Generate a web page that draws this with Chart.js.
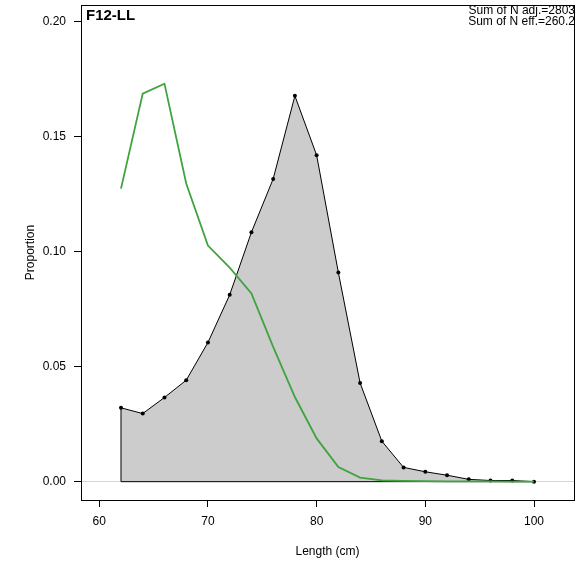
<!DOCTYPE html>
<html>
<head>
<meta charset="utf-8">
<script src="https://cdn.jsdelivr.net/npm/chart.js@4/dist/chart.umd.min.js"></script>
<style>
  html, body { margin: 0; padding: 0; background: #fff; }
  #wrap { width: 578px; height: 563px; }
</style>
</head>
<body>
<div id="wrap"><canvas id="c" width="578" height="563"></canvas></div>
<script>
// ---- data ----
const lengths = [62, 64, 66, 68, 70, 72, 74, 76, 78, 80, 82, 84, 86, 88, 90, 92, 94, 96, 98, 100];
const obsProp = [0.0321, 0.0296, 0.0366, 0.0441, 0.0605, 0.0812, 0.1084, 0.1316, 0.1677, 0.1419, 0.0909, 0.0429, 0.0176, 0.0062, 0.0043, 0.0028, 0.0010, 0.0005, 0.0005, 0.0000];
const expProp = [0.1274, 0.1687, 0.1730, 0.1296, 0.1026, 0.0930, 0.0818, 0.0586, 0.0368, 0.0188, 0.0064, 0.0018, 0.0006, 0.0003, 0.0002, 0.0001, 0.0001, 0.0001, 0.0000, 0.0000];
const xTicks = [60, 70, 80, 90, 100];
const yTicks = [0.00, 0.05, 0.10, 0.15, 0.20];
const panelLabel = "F12-LL";
const noteLines = ["Sum of N adj.=2803", "Sum of N eff.=260.2"];
const xTitle = "Length (cm)";
const yTitle = "Proportion";

const FONT = "'Liberation Sans', Arial, sans-serif";

const obsPoints = lengths.map((l, i) => ({ x: l, y: obsProp[i] }));
const firstL = lengths[0], lastL = lengths[lengths.length - 1];
const polygon = [{ x: firstL, y: 0 }].concat(obsPoints, [{ x: lastL, y: 0 }]);
const baseline = [{ x: firstL, y: 0 }, { x: lastL, y: 0 }];
const expPoints = lengths.map((l, i) => ({ x: l, y: expProp[i] }));

const boxPlugin = {
  id: 'boxAndText',
  afterDraw(chart) {
    const { ctx, chartArea: a } = chart;
    ctx.save();
    ctx.strokeStyle = '#000';
    ctx.lineWidth = 1;
    ctx.strokeRect(Math.round(a.left) + 0.5, Math.round(a.top) + 0.5, Math.round(a.right - a.left), Math.round(a.bottom - a.top));
    ctx.fillStyle = '#000';
    ctx.font = "bold 15px " + FONT;
    ctx.textAlign = 'left';
    ctx.textBaseline = 'middle';
    ctx.fillText(panelLabel, a.left + 5, a.top + 11);
    ctx.font = "12px " + FONT;
    ctx.textAlign = 'right';
    ctx.fillText(noteLines[0], a.right + 1, a.top + 6);
    ctx.fillText(noteLines[1], a.right + 1, a.top + 17);
    ctx.restore();
  }
};

new Chart(document.getElementById('c'), {
  type: 'scatter',
  data: {
    datasets: [
      {
        label: 'expected',
        data: expPoints,
        showLine: true,
        borderColor: '#3fa33f',
        borderWidth: 1.8,
        pointRadius: 0,
        fill: false,
        order: 0
      },
      {
        label: 'observed points',
        data: obsPoints,
        showLine: false,
        pointRadius: 2,
        pointBackgroundColor: '#000',
        pointBorderColor: '#000',
        pointBorderWidth: 0,
        order: 1
      },
      {
        label: 'baseline',
        data: baseline,
        showLine: true,
        borderColor: '#000',
        borderWidth: 1,
        pointRadius: 0,
        fill: false,
        order: 2
      },
      {
        label: 'observed',
        data: polygon,
        showLine: true,
        borderColor: '#000',
        borderWidth: 1,
        backgroundColor: '#cccccc',
        pointRadius: 0,
        fill: 'origin',
        order: 3
      }
    ]
  },
  options: {
    responsive: false,
    animation: false,
    layout: { padding: { left: 0, right: 4, top: 5, bottom: 0 } },
    plugins: {
      legend: { display: false },
      tooltip: { enabled: false },
      filler: { propagate: false }
    },
    scales: {
      x: {
        type: 'linear',
        min: 58.32,
        max: 103.68,
        afterBuildTicks: s => { s.ticks = xTicks.map(v => ({ value: v })); },
        afterFit: s => { s.height = 63; s.paddingLeft = 0; s.paddingRight = 0; },
        ticks: {
          autoSkip: false, maxRotation: 0, padding: 7,
          color: '#000', font: { family: FONT, size: 12 },
          callback: v => String(v)
        },
        grid: { drawOnChartArea: false, drawTicks: true, tickLength: 7, tickColor: '#000' },
        border: { display: true, color: '#000' },
        title: { display: true, text: xTitle, color: '#000', font: { family: FONT, size: 12 }, padding: { top: 0, bottom: 4 } }
      },
      y: {
        type: 'linear',
        min: -0.00797,
        max: 0.2072,
        afterBuildTicks: s => { s.ticks = yTicks.map(v => ({ value: v })); },
        afterFit: s => { s.width = 81; s.paddingTop = 0; s.paddingBottom = 0; },
        ticks: {
          autoSkip: false, padding: 8,
          color: '#000', font: { family: FONT, size: 12 },
          callback: v => Number(v).toFixed(2)
        },
        grid: {
          drawOnChartArea: true, drawTicks: true, tickLength: 7, tickColor: '#000',
          color: c => (c.tick && Math.abs(c.tick.value) < 1e-9) ? '#d4d4d4' : 'rgba(0,0,0,0)'
        },
        border: { display: true, color: '#000' },
        title: { display: true, text: yTitle, color: '#000', font: { family: FONT, size: 12 }, padding: { top: 23, bottom: 0 } }
      }
    }
  },
  plugins: [boxPlugin]
});
</script>
</body>
</html>
